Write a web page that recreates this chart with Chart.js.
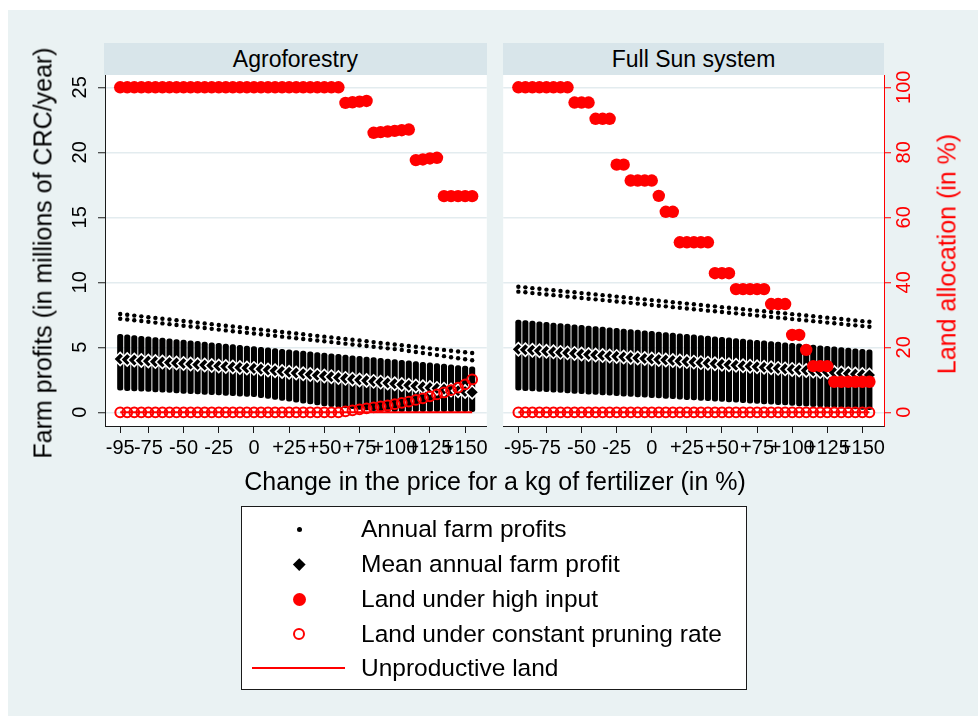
<!DOCTYPE html>
<html>
<head>
<meta charset="utf-8">
<script src="https://cdn.jsdelivr.net/npm/chart.js@4.4.1/dist/chart.umd.min.js"></script>
<style>
html,body{margin:0;padding:0;background:#fff;}
body{width:978px;height:716px;position:relative;overflow:hidden;font-family:"Liberation Sans",Arial,Helvetica,sans-serif;color:#000;}
#bg{position:absolute;left:8px;top:10px;right:0;bottom:0;background:#EAF2F3;}
.ptitle{position:absolute;top:43px;height:32px;line-height:32px;background:#D8E5EA;font-size:23px;text-align:center;}
canvas{position:absolute;top:0;}
.rot{position:absolute;white-space:nowrap;transform:translate(-50%,-50%) rotate(-90deg);font-size:25px;line-height:1;}
#xtitle{position:absolute;left:495px;top:481px;transform:translate(-50%,-50%);white-space:nowrap;font-size:25px;line-height:1;}
#legend{position:absolute;left:241px;top:506px;width:504px;height:182px;background:#fff;border:1px solid #1a1a1a;}
.lt{position:absolute;left:119px;font-size:24.5px;line-height:1;transform:translateY(-50%);white-space:nowrap;}
.mk{position:absolute;box-sizing:border-box;}
</style>
</head>
<body>
<div id="bg"></div>
<div class="ptitle" style="left:104px;width:383px">Agroforestry</div>
<div class="ptitle" style="left:503px;width:381px">Full Sun system</div>
<canvas id="c1" width="495" height="470" style="left:0;width:495px;height:470px"></canvas>
<canvas id="c2" width="483" height="470" style="left:495px;width:483px;height:470px"></canvas>
<div class="rot" style="left:43px;top:253px">Farm profits (in millions of CRC/year)</div>
<div class="rot" style="left:947px;top:254px;color:#FF0000">Land allocation (in %)</div>
<div id="xtitle">Change in the price for a kg of fertilizer (in %)</div>
<div id="legend">
  <div class="mk" style="left:54.5px;top:19.5px;width:5px;height:5px;border-radius:50%;background:#000"></div>
  <div class="mk" style="left:52.8px;top:52.8px;width:8.5px;height:8.5px;background:#000;transform:rotate(45deg)"></div>
  <div class="mk" style="left:50.5px;top:85.5px;width:13px;height:13px;border-radius:50%;background:#FF0000"></div>
  <div class="mk" style="left:50.75px;top:120.75px;width:12.5px;height:12.5px;border-radius:50%;border:2px solid #FF0000"></div>
  <div class="mk" style="left:10px;top:160px;width:93px;height:2px;background:#FF0000"></div>
  <div class="lt" style="top:22px">Annual farm profits</div>
  <div class="lt" style="top:57px">Mean annual farm profit</div>
  <div class="lt" style="top:92px">Land under high input</div>
  <div class="lt" style="top:127px">Land under constant pruning rate</div>
  <div class="lt" style="top:161px">Unproductive land</div>
</div>
<script>
// ---------- data ----------
const priceChange = [-95,-90,-85,-80,-75,-70,-65,-60,-55,-50,-45,-40,-35,-30,-25,-20,-15,-10,-5,0,
  5,10,15,20,25,30,35,40,45,50,55,60,65,70,75,80,85,90,95,100,105,110,115,120,125,130,135,140,145,150,155];
const xTickValues = [-95,-75,-50,-25,0,25,50,75,100,125,150];
const xTickLabels = ['-95','-75','-50','-25','0','+25','+50','+75','+100','+125','+150'];
const profitTicks = [0,5,10,15,20,25];
const profitTickLabels = ['0','5','10','15','20','25'];
const landTicks = [0,20,40,60,80,100];
const landTickLabels = ['0','20','40','60','80','100'];

// Agroforestry (profits in millions CRC/year, land in %)
const afProfitLow = [1.70,1.67,1.65,1.62,1.60,1.57,1.54,1.52,1.49,1.46,1.44,1.41,1.38,1.36,1.33,1.30,1.28,1.25,1.23,1.20,
  1.13,1.06,0.99,0.92,0.85,0.78,0.71,0.64,0.57,0.50,0.43,0.38,0.33,0.28,0.23,0.18,0.13,0.08,0.04,0,0,0,0,0,0,0,0,0,0,0,0];
const afProfitHigh = [6.00,5.95,5.90,5.85,5.80,5.75,5.70,5.65,5.60,5.55,5.50,5.45,5.40,5.35,5.30,5.25,5.20,5.15,5.10,5.05,
  5.00,4.95,4.90,4.85,4.80,4.75,4.70,4.65,4.60,4.55,4.50,4.45,4.40,4.35,4.30,4.25,4.20,4.15,4.10,4.05,4.00,3.95,3.90,3.85,3.80,3.75,3.70,3.65,3.60,3.55,3.50];
const afProfitTop1 = [7.56,7.50,7.44,7.38,7.32,7.26,7.20,7.14,7.08,7.02,6.96,6.90,6.84,6.78,6.72,6.66,6.60,6.54,6.48,6.42,
  6.36,6.30,6.24,6.18,6.12,6.06,6.00,5.94,5.88,5.82,5.76,5.70,5.64,5.58,5.52,5.46,5.40,5.34,5.28,5.22,5.16,5.10,5.04,4.98,4.92,4.86,4.80,4.74,4.68,4.62,4.56];
const afProfitTop2 = [7.20,7.14,7.08,7.02,6.96,6.90,6.84,6.78,6.72,6.66,6.60,6.54,6.48,6.42,6.36,6.30,6.24,6.18,6.12,6.06,
  6.00,5.94,5.88,5.82,5.76,5.70,5.64,5.58,5.52,5.46,5.40,5.34,5.28,5.22,5.16,5.10,5.04,4.98,4.92,4.86,4.80,4.72,4.64,4.56,4.48,4.40,4.32,4.24,4.16,4.08,4.00];
const afMeanProfit = [4.10,4.06,4.02,3.98,3.94,3.90,3.87,3.83,3.79,3.75,3.71,3.67,3.64,3.60,3.56,3.52,3.49,3.45,3.41,3.38,
  3.32,3.26,3.20,3.14,3.08,3.02,2.97,2.91,2.85,2.79,2.73,2.67,2.61,2.55,2.49,2.44,2.38,2.32,2.26,2.20,2.14,2.08,2.02,1.96,1.90,1.84,1.78,1.72,1.66,1.60,1.54];
const afHighInput = [100,100,100,100,100,100,100,100,100,100,100,100,100,100,100,100,100,100,100,100,
  100,100,100,100,100,100,100,100,100,100,100,100,95.2,95.4,95.6,95.8,86.0,86.2,86.4,86.6,86.8,87.0,77.6,77.8,78.1,78.3,66.5,66.5,66.5,66.5,66.5];
const afPruning = [0,0,0,0,0,0,0,0,0,0,0,0,0,0,0,0,0,0,0,0,
  0,0,0,0,0,0,0,0,0,0,0,0,0.3,0.6,0.9,1.2,1.5,1.8,2.1,2.5,2.9,3.3,3.8,4.3,4.9,5.5,6.1,6.8,7.6,8.6,10.1];
const afUnproductive = [0,0,0,0,0,0,0,0,0,0,0,0,0,0,0,0,0,0,0,0,0,0,0,0,0,0,0,0,0,0,0,0,0,0,0,0,0,0,0,0,0,0,0,0,0,0,0,0,0,0,0];

// Full Sun system
const fsProfitLow = [1.70,1.67,1.64,1.61,1.58,1.55,1.52,1.49,1.46,1.43,1.40,1.37,1.34,1.31,1.28,1.25,1.22,1.19,1.16,1.13,
  1.10,1.07,1.04,1.01,0.98,0.95,0.92,0.89,0.86,0.83,0.80,0.77,0.74,0.71,0.68,0.65,0.62,0.59,0.56,0.53,0.50,0.47,0.44,0.41,0.38,0.35,0.32,0.29,0.26,0.23,0.20];
const fsProfitHigh = [7.10,7.05,7.01,6.96,6.92,6.87,6.82,6.78,6.73,6.69,6.64,6.59,6.55,6.50,6.46,6.41,6.36,6.32,6.27,6.23,
  6.18,6.13,6.09,6.04,6.00,5.95,5.90,5.86,5.81,5.77,5.72,5.67,5.63,5.58,5.54,5.49,5.44,5.40,5.35,5.31,5.26,5.21,5.17,5.12,5.08,5.03,4.98,4.94,4.89,4.85,4.80];
const fsProfitTop1 = [9.66,9.61,9.55,9.50,9.44,9.39,9.34,9.28,9.23,9.17,9.12,9.07,9.01,8.96,8.90,8.85,8.80,8.74,8.69,8.63,
  8.58,8.53,8.47,8.42,8.36,8.31,8.26,8.20,8.15,8.09,8.04,7.99,7.93,7.88,7.82,7.77,7.72,7.66,7.61,7.55,7.50,7.45,7.39,7.34,7.28,7.23,7.18,7.12,7.07,7.01,6.96];
const fsProfitTop2 = [9.28,9.23,9.17,9.12,9.06,9.01,8.96,8.90,8.85,8.79,8.74,8.69,8.63,8.58,8.52,8.47,8.42,8.36,8.31,8.25,
  8.20,8.15,8.09,8.04,7.98,7.93,7.88,7.82,7.77,7.71,7.66,7.61,7.55,7.50,7.44,7.39,7.34,7.28,7.23,7.17,7.12,7.07,7.01,6.96,6.90,6.85,6.80,6.74,6.69,6.63,6.58];
const fsMeanProfit = [4.85,4.81,4.77,4.73,4.69,4.65,4.61,4.57,4.53,4.49,4.45,4.41,4.37,4.33,4.30,4.26,4.22,4.18,4.14,4.10,
  4.06,4.02,3.98,3.94,3.90,3.86,3.82,3.78,3.74,3.70,3.66,3.62,3.58,3.54,3.50,3.46,3.42,3.38,3.34,3.30,3.26,3.22,3.18,3.14,3.10,3.06,3.02,2.98,2.94,2.91,2.87];
const fsHighInput = [100,100,100,100,100,100,100,100,95.3,95.3,95.3,90.3,90.3,90.3,76.2,76.2,71.3,71.3,71.3,71.3,
  66.6,61.7,61.7,52.3,52.3,52.3,52.3,52.3,42.8,42.8,42.8,37.9,37.9,37.9,37.9,37.9,33.3,33.3,33.3,23.8,23.8,19.2,14.2,14.2,14.2,9.4,9.4,9.4,9.4,9.4,9.4];
const fsPruning = [0,0,0,0,0,0,0,0,0,0,0,0,0,0,0,0,0,0,0,0,0,0,0,0,0,0,0,0,0,0,0,0,0,0,0,0,0,0,0,0,0,0,0,0,0,0,0,0,0,0,0];
const fsUnproductive = [0,0,0,0,0,0,0,0,0,0,0,0,0,0,0,0,0,0,0,0,0,0,0,0,0,0,0,0,0,0,0,0,0,0,0,0,0,0,0,0,0,0,0,0,0,0,0,0,0,0,0];

// ---------- drawing ----------
const FONT = '"Liberation Sans", Arial, Helvetica, sans-serif';
const GRID = '#E3ECEF';
const AXIS = '#1a1a1a';
const RED = '#FF0000';
const X_MIN = -105.8, X_MAX = 165.4;
const Y_MIN = -1.054, Y_MAX = 25.946;
const Y2_MIN = Y_MIN * 4, Y2_MAX = Y_MAX * 4;

function pts(ys) { return priceChange.map((x, i) => ({x: x, y: ys[i]})); }
function ranges(lo, hi) { return priceChange.map((x, i) => ({x: x, y: [lo[i], hi[i]]})); }

function makeDatasets(d) {
  return [
    {type: 'line', label: 'Unproductive land', data: pts(d.unprod), yAxisID: 'y2',
     borderColor: RED, borderWidth: 2, pointRadius: 0, tension: 0, order: 0},
    {type: 'scatter', label: 'Land under constant pruning rate', data: pts(d.prun), yAxisID: 'y2',
     pointStyle: 'circle', pointRadius: 4.9, pointBorderWidth: 2, pointBorderColor: RED,
     pointBackgroundColor: 'rgba(0,0,0,0)', order: 1},
    {type: 'scatter', label: 'Land under high input', data: pts(d.high), yAxisID: 'y2',
     pointStyle: 'circle', pointRadius: 6.2, pointBorderWidth: 0, pointBackgroundColor: RED, pointBorderColor: RED, order: 2},
    {type: 'scatter', label: 'Mean annual farm profit', data: pts(d.mean), yAxisID: 'y',
     pointStyle: 'rectRot', pointRadius: 6.6, pointBorderWidth: 1.6, pointBackgroundColor: '#000', pointBorderColor: '#fff', order: 3},
    {type: 'scatter', label: 'Annual farm profits', data: pts(d.top1).concat(pts(d.top2)), yAxisID: 'y',
     pointStyle: 'circle', pointRadius: 2.2, pointBorderWidth: 0, pointBackgroundColor: '#000', pointBorderColor: '#000', order: 4},
    {type: 'bar', label: 'Annual farm profits (range)', data: ranges(d.low, d.hi), yAxisID: 'y',
     backgroundColor: '#000', barThickness: 5.4, borderRadius: 2.5, borderSkipped: false, borderWidth: 0, order: 5}
  ];
}

const plotBg = {
  id: 'plotBg',
  beforeDraw(chart) {
    const a = chart.chartArea, ctx = chart.ctx;
    ctx.save(); ctx.fillStyle = '#fff';
    ctx.fillRect(a.left, a.top, a.right - a.left, a.bottom - a.top);
    ctx.restore();
  }
};
const yLabels = {
  id: 'yLabels',
  afterDraw(chart, args, o) {
    const ctx = chart.ctx, sc = chart.scales[o.axis];
    ctx.save();
    ctx.font = '20px ' + FONT;
    ctx.fillStyle = o.color;
    ctx.textAlign = 'center';
    ctx.textBaseline = 'middle';
    o.values.forEach((v, k) => {
      const py = sc.getPixelForValue(v);
      ctx.save();
      ctx.translate(o.x, py);
      ctx.rotate(-Math.PI / 2);
      ctx.fillText(o.labels[k], 0, 0);
      ctx.restore();
    });
    ctx.restore();
  }
};

function makeChart(id, d, left) {
  return new Chart(document.getElementById(id), {
    type: 'scatter',
    data: {datasets: makeDatasets(d)},
    options: {
      responsive: false, animation: false, events: [],
      layout: {padding: left ? {left: 60, right: 8, top: 75, bottom: 4} : {left: 8, right: 54, top: 75, bottom: 4}},
      plugins: {
        legend: {display: false}, tooltip: {enabled: false},
        yLabels: left ? {axis: 'y', x: 80, values: profitTicks, labels: profitTickLabels, color: '#000'}
                      : {axis: 'y2', x: 409, values: landTicks, labels: landTickLabels, color: RED}
      },
      scales: {
        x: {
          type: 'linear', position: 'bottom', min: X_MIN, max: X_MAX, offset: false,
          afterBuildTicks: s => { s.ticks = xTickValues.map(v => ({value: v})); s.min = X_MIN; s.max = X_MAX; },
          afterFit: s => { s.height = 40; },
          grid: {drawOnChartArea: false, drawTicks: true, tickLength: 7, tickColor: AXIS, tickWidth: 1, offset: false},
          border: {display: true, color: AXIS, width: 1},
          ticks: {autoSkip: false, maxRotation: 0, minRotation: 0, padding: 3, color: '#000',
                  font: {family: FONT, size: 20},
                  callback: v => xTickLabels[xTickValues.indexOf(v)]}
        },
        y: {
          type: 'linear', display: left, position: 'left', min: Y_MIN, max: Y_MAX,
          afterBuildTicks: s => { s.ticks = profitTicks.map(v => ({value: v})); s.min = Y_MIN; s.max = Y_MAX; },
          afterFit: s => { s.width = left ? 45 : 0; },
          grid: {color: GRID, lineWidth: 1.5, drawTicks: true, tickLength: 7, tickColor: AXIS, tickWidth: 1},
          border: {display: true, color: AXIS, width: 1},
          ticks: {display: false}
        },
        y2: {
          type: 'linear', display: !left, position: 'right', min: Y2_MIN, max: Y2_MAX,
          afterBuildTicks: s => { s.ticks = landTicks.map(v => ({value: v})); s.min = Y2_MIN; s.max = Y2_MAX; },
          afterFit: s => { s.width = left ? 0 : 40; },
          grid: {color: GRID, lineWidth: 1.5, drawTicks: true, tickLength: 7, tickColor: RED, tickWidth: 1},
          border: {display: true, color: RED, width: 1},
          ticks: {display: false}
        }
      }
    },
    plugins: [plotBg, yLabels]
  });
}

makeChart('c1', {low: afProfitLow, hi: afProfitHigh, top1: afProfitTop1, top2: afProfitTop2,
  mean: afMeanProfit, high: afHighInput, prun: afPruning, unprod: afUnproductive}, true);
makeChart('c2', {low: fsProfitLow, hi: fsProfitHigh, top1: fsProfitTop1, top2: fsProfitTop2,
  mean: fsMeanProfit, high: fsHighInput, prun: fsPruning, unprod: fsUnproductive}, false);
</script>
</body>
</html>
